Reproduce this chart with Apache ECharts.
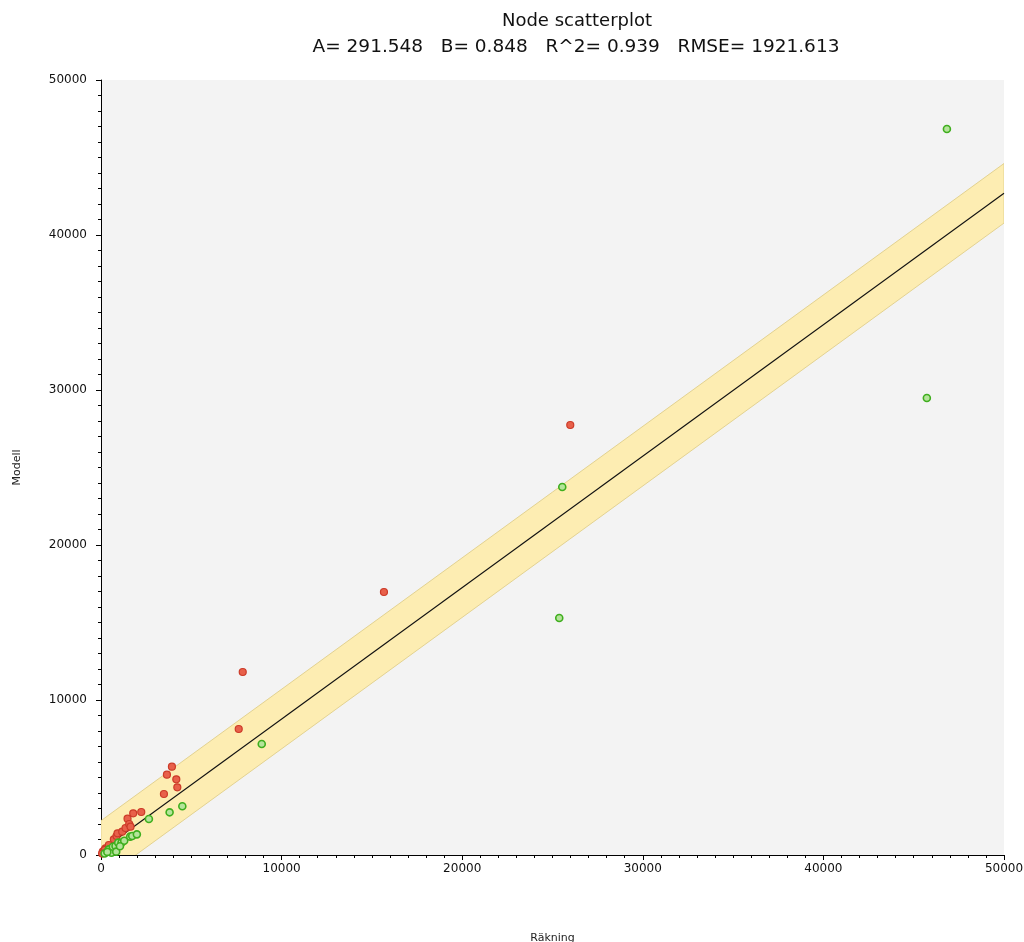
<!DOCTYPE html>
<html>
<head>
<meta charset="utf-8">
<script src="https://cdn.jsdelivr.net/npm/echarts@6/dist/echarts.min.js"></script>
<style>
html,body{margin:0;padding:0;background:#fff;}
#chart{width:1024px;height:942px;}
</style>
</head>
<body>
<div id="chart"></div>
<script>
// Regression statistics (from the title)
const A = 291.548;
const B = 0.848;
const R2 = 0.939;
const RMSE = 1921.613;

// Axis range / ticks
const axisMin = 0;
const axisMax = 50000;
const axisInterval = 10000;

// Points where model > count (red)
const redPoints = [
  [100,215],[250,430],[433,645],[710,1013],[860,1226],[915,1398],[1174,1505],
  [1359,1742],[1470,2344],[1562,2000],[1636,1828],[1784,2688],[2229,2774],
  [3484,3935],[3650,5181],[3927,5697],[4170,4884],[4226,4368],
  [7626,8129],[7848,11806],[15667,16968],[25984,27742],[200,330],[60,90]
];

// Points where model < count (green)
const greenPoints = [
  [200,100],[433,365],[582,150],[656,537],[804,580],[843,215],[954,796],
  [1137,796],[1285,924],[1617,1183],[1730,1226],[1986,1333],[2653,2323],
  [3799,2753],[4503,3141],[8901,7161],[25374,15290],[25541,23742],
  [45728,29484],[46839,46840],[350,200],[1050,560]
];

const titleLine1 = 'Node scatterplot';
const titleLine2 = 'A= ' + A.toFixed(3) + '   B= ' + B.toFixed(3) + '   R^2= ' + R2.toFixed(3) + '   RMSE= ' + RMSE.toFixed(3);

const fitLine = [[axisMin, A + B * axisMin], [axisMax, A + B * axisMax]];
const bandPoly = [
  [axisMin, A + B * axisMin - RMSE],
  [axisMax, A + B * axisMax - RMSE],
  [axisMax, A + B * axisMax + RMSE],
  [axisMin, A + B * axisMin + RMSE]
];

const chart = echarts.init(document.getElementById('chart'), null, {renderer:'canvas'});
const FONT = 'DejaVu Sans';
const axisCommon = {
  type: 'value',
  min: axisMin, max: axisMax, interval: axisInterval,
  axisLine: {show: true, lineStyle: {color: '#000', width: 1}},
  axisTick: {show: true, length: 5, lineStyle: {color: '#000'}},
  minorTick: {show: true, splitNumber: 10, length: 3, lineStyle: {color: '#000'}},
  splitLine: {show: false},
  axisLabel: {color: '#111', fontFamily: FONT, fontSize: 12, formatter: function (v) { return String(v); }},
  nameLocation: 'middle',
  nameTextStyle: {color: '#222', fontFamily: FONT, fontSize: 11}
};

chart.setOption({
  animation: false,
  backgroundColor: '#fff',
  title: [
    {text: titleLine1, left: 572, top: 7, textAlign: 'center',
     textStyle: {fontFamily: FONT, fontSize: 18, fontWeight: 'normal', color: '#111'}},
    {text: titleLine2, left: 571, top: 33, textAlign: 'center',
     textStyle: {fontFamily: FONT, fontSize: 18.5, fontWeight: 'normal', color: '#111'}}
  ],
  grid: {left: 101, right: 20, top: 80, bottom: 87, show: true, backgroundColor: '#f3f3f3', borderWidth: 0,
         containLabel: false, outerBoundsMode: 'none'},
  xAxis: Object.assign({}, axisCommon, {
    name: 'Räkning', nameGap: 78,
    axisLabel: Object.assign({}, axisCommon.axisLabel, {margin: 8})
  }),
  yAxis: Object.assign({}, axisCommon, {
    name: 'Modell', nameGap: 78,
    axisLabel: Object.assign({}, axisCommon.axisLabel, {margin: 14})
  }),
  series: [
    {
      type: 'custom',
      silent: true,
      z: 1,
      data: [0],
      renderItem: function (params, api) {
        const pts = bandPoly.map(p => api.coord(p));
        const cs = params.coordSys;
        return {
          type: 'group',
          children: [{
            type: 'polygon',
            shape: {points: pts},
            style: {fill: '#fdedb2', stroke: '#e3d290', lineWidth: 1}
          }],
          clipPath: {type: 'rect', shape: {x: cs.x, y: cs.y, width: cs.width, height: cs.height}}
        };
      }
    },
    {
      type: 'line',
      data: fitLine,
      symbol: 'none',
      z: 2,
      lineStyle: {color: '#111', width: 1.1},
      silent: true
    },
    {
      type: 'scatter',
      data: redPoints,
      symbol: 'circle',
      symbolSize: 7,
      z: 3,
      itemStyle: {color: '#e8604a', borderColor: '#cc3a28', borderWidth: 1.2, opacity: 1}
    },
    {
      type: 'scatter',
      data: greenPoints,
      symbol: 'circle',
      symbolSize: 7,
      z: 4,
      itemStyle: {color: '#b4e49a', borderColor: '#3fae1e', borderWidth: 1.6, opacity: 1}
    }
  ]
});
</script>
</body>
</html>
